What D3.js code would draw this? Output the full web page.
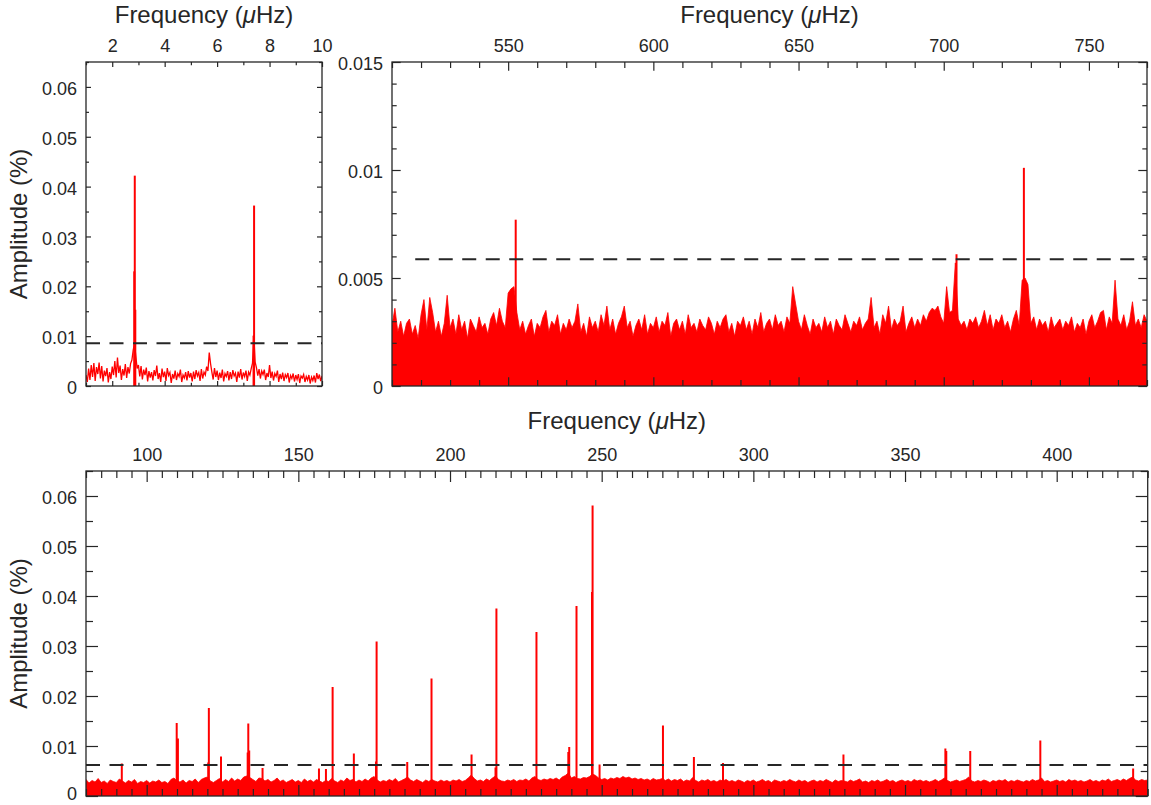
<!DOCTYPE html>
<html><head><meta charset="utf-8">
<script src="https://cdn.jsdelivr.net/npm/d3@7"></script>
<style>
body{margin:0;background:#fff}
svg{display:block}
text{font-family:"Liberation Sans",Arial,Helvetica,sans-serif;fill:#262626}
</style>
</head><body><svg id="chart" width="1151" height="805"></svg>
<script>
// ---------------- DATA ----------------
// Top-left panel: low-frequency amplitude spectrum, 1.00 .. 10.00 uHz, step 0.05
const lowStart = 1.0, lowStep = 0.05;
const lowNoise = [
0.0022,0.0008,0.0035,0.0012,0.0042,0.0018,0.0046,0.0010,0.0038,0.0024,
0.0047,0.0015,0.0040,0.0009,0.0031,0.0020,0.0036,0.0007,0.0028,0.0014,
0.0039,0.0022,0.0050,0.0017,0.0057,0.0026,0.0041,0.0012,0.0034,0.0021,
0.0044,0.0016,0.0038,0.0025,0.0045,0.0052,0.0072,0.0085,0.0060,0.0035,
0.0042,0.0019,0.0040,0.0013,0.0033,0.0022,0.0037,0.0009,0.0030,0.0017,
0.0028,0.0011,0.0032,0.0020,0.0041,0.0014,0.0026,0.0008,0.0035,0.0018,
0.0029,0.0010,0.0036,0.0021,0.0027,0.0006,0.0024,0.0015,0.0031,0.0012,
0.0025,0.0019,0.0033,0.0008,0.0022,0.0016,0.0028,0.0011,0.0030,0.0017,
0.0026,0.0009,0.0029,0.0014,0.0032,0.0020,0.0027,0.0010,0.0034,0.0015,
0.0028,0.0022,0.0039,0.0030,0.0067,0.0045,0.0028,0.0013,0.0036,0.0018,
0.0031,0.0012,0.0027,0.0016,0.0033,0.0009,0.0025,0.0019,0.0030,0.0011,
0.0028,0.0014,0.0032,0.0020,0.0026,0.0008,0.0029,0.0017,0.0034,0.0013,
0.0027,0.0019,0.0031,0.0010,0.0028,0.0022,0.0035,0.0046,0.0101,0.0048,
0.0037,0.0021,0.0034,0.0015,0.0030,0.0023,0.0033,0.0012,0.0026,0.0018,
0.0042,0.0016,0.0029,0.0011,0.0025,0.0019,0.0031,0.0008,0.0024,0.0014,
0.0027,0.0010,0.0023,0.0017,0.0026,0.0007,0.0021,0.0015,0.0025,0.0009,
0.0022,0.0013,0.0024,0.0006,0.0020,0.0016,0.0023,0.0008,0.0019,0.0012,
0.0022,0.0005,0.0018,0.0011,0.0021,0.0007,0.0026,0.0014,0.0023,0.0010,
0.0020];
const lowPeakFreq = [2.84, 2.86, 2.88, 7.39, 7.41];
const lowPeakAmp  = [0.0230, 0.0422, 0.0153, 0.0101, 0.0362];
const lowThreshold = 0.0086;

// Top-right panel: high-frequency spectrum, 510 .. 770 uHz, step 1 (upper envelope)
const highStart = 510, highStep = 1;
const highNoise = [
0.0028,0.0036,0.0025,0.0030,0.0023,0.0029,0.0031,0.0024,0.0028,0.0022,
0.0033,0.0040,0.0026,0.0041,0.0034,0.0025,0.0030,0.0023,0.0029,0.0042,
0.0027,0.0031,0.0024,0.0033,0.0026,0.0030,0.0022,0.0031,0.0028,0.0025,
0.0032,0.0027,0.0029,0.0024,0.0031,0.0034,0.0028,0.0036,0.0030,0.0027,
0.0043,0.0045,0.0046,0.0034,0.0026,0.0030,0.0024,0.0028,0.0031,0.0023,
0.0029,0.0027,0.0032,0.0035,0.0025,0.0030,0.0028,0.0033,0.0024,0.0029,
0.0026,0.0031,0.0027,0.0030,0.0038,0.0025,0.0029,0.0023,0.0032,0.0027,
0.0030,0.0025,0.0033,0.0028,0.0037,0.0026,0.0031,0.0024,0.0029,0.0032,
0.0037,0.0027,0.0030,0.0023,0.0028,0.0031,0.0026,0.0033,0.0024,0.0029,
0.0027,0.0032,0.0025,0.0030,0.0028,0.0034,0.0023,0.0029,0.0031,0.0026,
0.0030,0.0024,0.0033,0.0027,0.0029,0.0025,0.0031,0.0028,0.0026,0.0032,
0.0029,0.0024,0.0030,0.0027,0.0031,0.0033,0.0025,0.0029,0.0023,0.0030,
0.0028,0.0032,0.0026,0.0030,0.0024,0.0031,0.0027,0.0034,0.0025,0.0029,
0.0031,0.0026,0.0033,0.0028,0.0030,0.0025,0.0032,0.0029,0.0046,0.0038,
0.0030,0.0026,0.0033,0.0028,0.0024,0.0031,0.0027,0.0029,0.0025,0.0032,
0.0027,0.0030,0.0024,0.0031,0.0028,0.0026,0.0033,0.0029,0.0025,0.0030,
0.0028,0.0032,0.0026,0.0029,0.0031,0.0041,0.0027,0.0030,0.0024,0.0033,
0.0029,0.0037,0.0026,0.0031,0.0028,0.0030,0.0037,0.0025,0.0029,0.0032,
0.0027,0.0031,0.0028,0.0033,0.0030,0.0034,0.0036,0.0035,0.0037,0.0032,
0.0029,0.0046,0.0034,0.0035,0.0057,0.0031,0.0028,0.0030,0.0026,0.0031,
0.0029,0.0032,0.0027,0.0030,0.0035,0.0028,0.0033,0.0026,0.0031,0.0029,
0.0033,0.0027,0.0030,0.0025,0.0031,0.0035,0.0028,0.0049,0.0050,0.0047,
0.0029,0.0032,0.0026,0.0031,0.0028,0.0030,0.0025,0.0032,0.0027,0.0029,
0.0031,0.0026,0.0030,0.0028,0.0032,0.0025,0.0029,0.0027,0.0031,0.0024,
0.0030,0.0033,0.0027,0.0030,0.0034,0.0035,0.0026,0.0032,0.0029,0.0049,
0.0031,0.0028,0.0033,0.0026,0.0030,0.0039,0.0028,0.0031,0.0027,0.0033,
0.0030];
const highPeakFreq = [552.6, 704.4, 727.6];
const highPeakAmp  = [0.0077, 0.0061, 0.0101];
const highThreshold = 0.00587;

// Bottom panel: mid-frequency spectrum, 80 .. 430 uHz, step 1 (upper envelope)
const midStart = 80, midStep = 1;
const midNoise = [
0.0033,0.0026,0.0031,0.0028,0.0035,0.0027,0.0030,0.0025,0.0032,0.0029,
0.0027,0.0034,0.0030,0.0026,0.0031,0.0028,0.0033,0.0025,0.0029,0.0027,
0.0031,0.0026,0.0030,0.0028,0.0032,0.0027,0.0029,0.0025,0.0033,0.0036,
0.0030,0.0028,0.0032,0.0026,0.0031,0.0029,0.0034,0.0027,0.0033,0.0036,
0.0038,0.0030,0.0027,0.0031,0.0035,0.0028,0.0033,0.0029,0.0036,0.0030,
0.0034,0.0031,0.0038,0.0040,0.0037,0.0033,0.0029,0.0036,0.0035,0.0030,
0.0033,0.0028,0.0031,0.0036,0.0029,0.0032,0.0027,0.0030,0.0033,0.0028,
0.0031,0.0027,0.0034,0.0029,0.0032,0.0028,0.0033,0.0030,0.0027,0.0031,
0.0029,0.0035,0.0030,0.0027,0.0032,0.0029,0.0036,0.0031,0.0033,0.0028,
0.0032,0.0029,0.0034,0.0030,0.0036,0.0039,0.0032,0.0028,0.0031,0.0029,
0.0033,0.0030,0.0035,0.0028,0.0031,0.0034,0.0038,0.0032,0.0029,0.0033,
0.0030,0.0027,0.0032,0.0029,0.0033,0.0030,0.0028,0.0032,0.0029,0.0031,
0.0028,0.0032,0.0030,0.0033,0.0029,0.0031,0.0036,0.0042,0.0035,0.0030,
0.0032,0.0029,0.0034,0.0031,0.0036,0.0040,0.0033,0.0030,0.0029,0.0032,
0.0030,0.0033,0.0029,0.0032,0.0031,0.0034,0.0030,0.0036,0.0039,0.0033,
0.0031,0.0034,0.0032,0.0035,0.0033,0.0036,0.0032,0.0038,0.0041,0.0046,
0.0036,0.0039,0.0035,0.0034,0.0037,0.0036,0.0039,0.0044,0.0041,0.0036,
0.0033,0.0035,0.0032,0.0036,0.0034,0.0037,0.0035,0.0039,0.0036,0.0038,
0.0034,0.0036,0.0033,0.0035,0.0032,0.0034,0.0031,0.0035,0.0032,0.0033,
0.0035,0.0031,0.0034,0.0030,0.0033,0.0031,0.0034,0.0029,0.0032,0.0030,
0.0037,0.0031,0.0028,0.0032,0.0030,0.0033,0.0029,0.0031,0.0028,0.0032,
0.0030,0.0033,0.0029,0.0031,0.0028,0.0032,0.0030,0.0027,0.0031,0.0029,
0.0032,0.0028,0.0030,0.0033,0.0029,0.0031,0.0027,0.0032,0.0030,0.0028,
0.0031,0.0029,0.0033,0.0030,0.0028,0.0032,0.0029,0.0031,0.0027,0.0030,
0.0032,0.0028,0.0031,0.0029,0.0033,0.0030,0.0027,0.0032,0.0029,0.0031,
0.0030,0.0028,0.0032,0.0029,0.0031,0.0034,0.0028,0.0030,0.0027,0.0031,
0.0029,0.0032,0.0028,0.0030,0.0033,0.0029,0.0031,0.0027,0.0030,0.0032,
0.0029,0.0031,0.0028,0.0033,0.0030,0.0032,0.0029,0.0031,0.0028,0.0030,
0.0033,0.0029,0.0032,0.0036,0.0031,0.0028,0.0030,0.0032,0.0029,0.0031,
0.0033,0.0038,0.0030,0.0028,0.0031,0.0029,0.0032,0.0030,0.0027,0.0031,
0.0029,0.0032,0.0030,0.0033,0.0028,0.0031,0.0029,0.0032,0.0030,0.0028,
0.0031,0.0029,0.0033,0.0030,0.0032,0.0036,0.0029,0.0031,0.0028,0.0030,
0.0032,0.0029,0.0031,0.0028,0.0033,0.0030,0.0032,0.0029,0.0031,0.0028,
0.0030,0.0033,0.0029,0.0031,0.0028,0.0032,0.0030,0.0034,0.0029,0.0031,
0.0033,0.0030,0.0034,0.0031,0.0035,0.0038,0.0032,0.0030,0.0033,0.0031,
0.0032];
const midPeakFreq = [91.8,109.9,110.3,120.3,120.5,124.5,133.3,133.5,133.8,138.2,156.8,159.1,161.3,168.3,175.6,175.8,
  185.9,193.9,207.1,215.0,215.3,228.5,239.0,239.3,241.7,246.8,247.0,249.3,270.2,280.4,290.0,329.7,363.3,363.6,371.5,394.6,425.2];
const midPeakAmp  = [0.0065,0.0146,0.0115,0.0067,0.0176,0.0079,0.0087,0.0145,0.0091,0.0056,0.0055,0.0054,0.0218,0.0085,0.0069,0.0309,
  0.0068,0.0235,0.0083,0.0057,0.0375,0.0328,0.0088,0.0098,0.0380,0.0408,0.0581,0.0063,0.0141,0.0078,0.0066,0.0083,0.0095,0.0090,0.0090,0.0111,0.0055];
const midThreshold = 0.0062;

// Tick values and labels
const lowXTicks = [2,4,6,8,10],            lowXLabels = ["2","4","6","8","10"];
const highXTicks = [550,600,650,700,750],  highXLabels = ["550","600","650","700","750"];
const midXTicks = [100,150,200,250,300,350,400], midXLabels = ["100","150","200","250","300","350","400"];
const ampTicks = [0,0.01,0.02,0.03,0.04,0.05,0.06], ampLabels = ["0","0.01","0.02","0.03","0.04","0.05","0.06"];
const highAmpTicks = [0,0.005,0.01,0.015], highAmpLabels = ["0","0.005","0.01","0.015"];

// ---------------- DRAWING ----------------
const svg = d3.select("#chart");
const INK = "#262626";
const FONT = '"Liberation Sans", Arial, Helvetica, sans-serif';

function drawPanel(c) {
  const x = d3.scaleLinear().domain(c.xDomain).range([c.left, c.right]);
  const y = d3.scaleLinear().domain(c.yDomain).range([c.bottom, c.top]);
  const clipId = "clip-" + c.id;
  svg.append("clipPath").attr("id", clipId).append("rect")
    .attr("x", c.left).attr("y", c.top).attr("width", c.right - c.left).attr("height", c.bottom - c.top);
  const g = svg.append("g");
  const dg = g.append("g").attr("clip-path", `url(#${clipId})`);
  const pts = c.noise.map((v, i) => [c.noiseStart + i * c.noiseStep, v]);
  if (c.fill) {
    dg.append("path").datum(pts)
      .attr("d", d3.area().x(d => x(d[0])).y0(y(0)).y1(d => y(d[1])))
      .attr("fill", "#ff0000").attr("stroke", "#ff0000").attr("stroke-width", 0.8);
  } else {
    dg.append("path").datum(pts)
      .attr("d", d3.line().x(d => x(d[0])).y(d => y(d[1])))
      .attr("fill", "none").attr("stroke", "#ff0000").attr("stroke-width", 1.3);
  }
  const peaks = c.peakFreq.map((f, i) => [f, c.peakAmp[i]]);
  dg.selectAll("line.peak").data(peaks).join("line").attr("class", "peak")
    .attr("x1", d => x(d[0])).attr("x2", d => x(d[0]))
    .attr("y1", y(0)).attr("y2", d => y(d[1]))
    .attr("stroke", "#ff0000").attr("stroke-width", 2);
  dg.append("line")
    .attr("x1", x(c.thrStart)).attr("x2", c.right)
    .attr("y1", y(c.threshold)).attr("y2", y(c.threshold))
    .attr("stroke", INK).attr("stroke-width", 2).attr("stroke-dasharray", "14,9.5");

  function styleAxis(sel) {
    sel.select(".domain").remove();
    sel.attr("font-size", 18).attr("font-family", FONT).attr("color", INK);
    sel.selectAll(".tick line").attr("stroke-width", 1.2);
  }
  const xMinor = d3.range(c.xDomain[0], c.xDomain[1] + 1e-9, c.xMinorStep).filter(v => !c.xTicks.includes(v));
  const yMinor = d3.range(c.yDomain[0], c.yDomain[1] + 1e-9, c.yMinorStep).map(v => +v.toFixed(6))
    .filter(v => !c.yTicks.some(t => Math.abs(t - v) < 1e-9));

  g.append("g").attr("transform", `translate(0,${c.top})`)
    .call(d3.axisTop(x).tickValues(c.xTicks).tickFormat((d, i) => c.xLabels[i]).tickSizeInner(-c.xMaj).tickSizeOuter(0).tickPadding(10))
    .call(styleAxis);
  g.append("g").attr("transform", `translate(0,${c.top})`)
    .call(d3.axisTop(x).tickValues(xMinor).tickFormat("").tickSizeInner(-c.xMin).tickSizeOuter(0))
    .call(styleAxis);
  g.append("g").attr("transform", `translate(0,${c.bottom})`)
    .call(d3.axisBottom(x).tickValues(c.xTicks).tickFormat("").tickSizeInner(-c.xMaj).tickSizeOuter(0))
    .call(styleAxis);
  g.append("g").attr("transform", `translate(0,${c.bottom})`)
    .call(d3.axisBottom(x).tickValues(xMinor).tickFormat("").tickSizeInner(-c.xMin).tickSizeOuter(0))
    .call(styleAxis);
  const la = g.append("g").attr("transform", `translate(${c.left},0)`)
    .call(d3.axisLeft(y).tickValues(c.yTicks).tickFormat((d, i) => c.yLabels[i]).tickSizeInner(-c.yMaj).tickSizeOuter(0).tickPadding(9))
    .call(styleAxis);
  la.selectAll("text").attr("dy", d => d === 0 ? c.zeroDy : "0.42em");
  g.append("g").attr("transform", `translate(${c.left},0)`)
    .call(d3.axisLeft(y).tickValues(yMinor).tickFormat("").tickSizeInner(-c.yMin).tickSizeOuter(0))
    .call(styleAxis);
  g.append("g").attr("transform", `translate(${c.right},0)`)
    .call(d3.axisRight(y).tickValues(c.yTicks).tickFormat("").tickSizeInner(-c.yMaj).tickSizeOuter(0))
    .call(styleAxis);
  g.append("g").attr("transform", `translate(${c.right},0)`)
    .call(d3.axisRight(y).tickValues(yMinor).tickFormat("").tickSizeInner(-c.yMin).tickSizeOuter(0))
    .call(styleAxis);
  g.append("rect").attr("x", c.left).attr("y", c.top)
    .attr("width", c.right - c.left).attr("height", c.bottom - c.top)
    .attr("fill", "none").attr("stroke", INK).attr("stroke-width", 1.3);

  const t = svg.append("text").attr("x", (c.left + c.right) / 2).attr("y", c.titleY)
    .attr("text-anchor", "middle").attr("font-size", 24);
  t.append("tspan").text("Frequency (");
  t.append("tspan").attr("font-style", "italic").text("\u03BC");
  t.append("tspan").text("Hz)");
  if (c.yTitle) {
    svg.append("text").attr("transform", `translate(27,${(c.top + c.bottom) / 2}) rotate(-90)`)
      .attr("text-anchor", "middle").attr("font-size", 24).text("Amplitude (%)");
  }
}

drawPanel({
  id: "low", left: 86, right: 322, top: 62, bottom: 386,
  xDomain: [1, 10], yDomain: [0, 0.065],
  xTicks: lowXTicks, xLabels: lowXLabels, xMinorStep: 1,
  yTicks: ampTicks, yLabels: ampLabels, yMinorStep: 0.005,
  xMaj: 5, xMin: 3.3, yMaj: 5, yMin: 3,
  noise: lowNoise, noiseStart: lowStart, noiseStep: lowStep, fill: false,
  peakFreq: lowPeakFreq, peakAmp: lowPeakAmp, threshold: lowThreshold, thrStart: 1,
  titleY: 23, yTitle: true, zeroDy: "0.42em"
});
drawPanel({
  id: "high", left: 392, right: 1147, top: 62, bottom: 386,
  xDomain: [510, 770], yDomain: [0, 0.015],
  xTicks: highXTicks, xLabels: highXLabels, xMinorStep: 10,
  yTicks: highAmpTicks, yLabels: highAmpLabels, yMinorStep: 0.001,
  xMaj: 8.7, xMin: 6, yMaj: 8.7, yMin: 4.7,
  noise: highNoise, noiseStart: highStart, noiseStep: highStep, fill: true,
  peakFreq: highPeakFreq, peakAmp: highPeakAmp, threshold: highThreshold, thrStart: 518,
  titleY: 23, yTitle: false, zeroDy: "0.42em"
});
drawPanel({
  id: "mid", left: 86, right: 1147.7, top: 471, bottom: 796,
  xDomain: [80, 430], yDomain: [0, 0.065],
  xTicks: midXTicks, xLabels: midXLabels, xMinorStep: 5,
  yTicks: ampTicks, yLabels: ampLabels, yMinorStep: 0.005,
  xMaj: 11, xMin: 7, yMaj: 12, yMin: 7,
  noise: midNoise, noiseStart: midStart, noiseStep: midStep, fill: true,
  peakFreq: midPeakFreq, peakAmp: midPeakAmp, threshold: midThreshold, thrStart: 80,
  titleY: 429, yTitle: true, zeroDy: "0.18em"
});
</script></body></html>
